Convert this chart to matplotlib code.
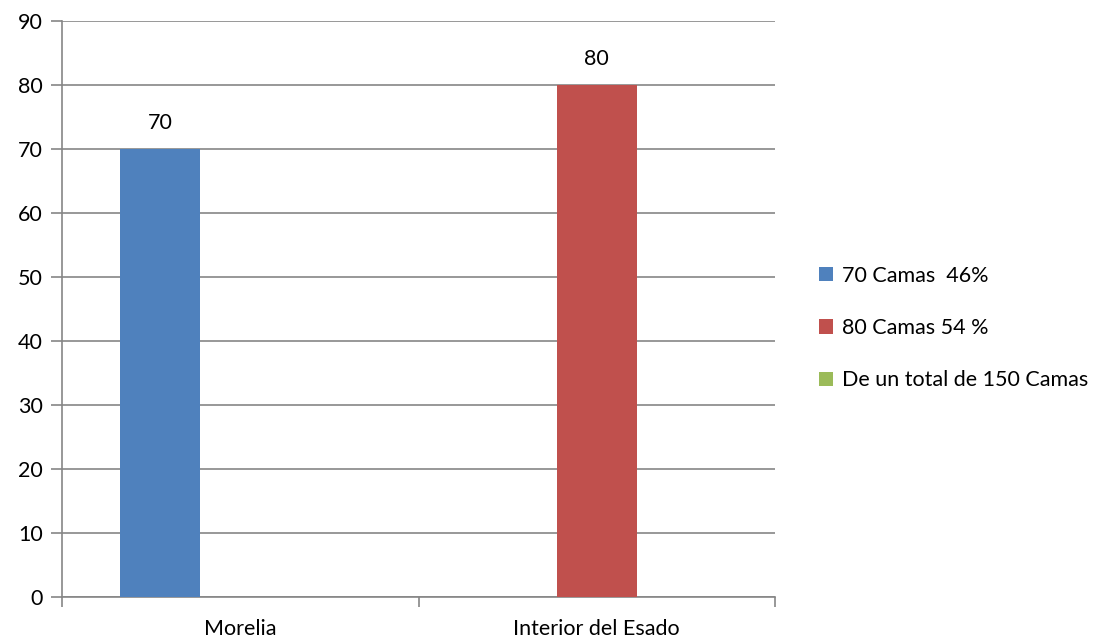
import numpy as np
import matplotlib.pyplot as plt
from matplotlib.patches import Patch

plt.rcParams['font.family'] = ['Lato', 'DejaVu Sans']

categories = ['Morelia', 'Interior del Esado']
series_names = ['70 Camas  46%', '80 Camas 54 %', 'De un total de 150 Camas']
morelia_vals = [70, 0]
interior_vals = [0, 80]
total_vals = [0, 0]
colors = ['#4F81BD', '#C0504D', '#9BBB59']

fig = plt.figure(figsize=(11.2, 6.41), dpi=100)
ax = fig.add_axes([62 / 1120, 1 - 597 / 641, (775 - 62) / 1120, (597 - 21) / 641])

x = np.arange(len(categories))
width = 0.2247
all_series = [morelia_vals, interior_vals, total_vals]
for i, (vals, c) in enumerate(zip(all_series, colors)):
    bars = ax.bar(x + (i - 1) * width, vals, width, color=c, zorder=3)
    for b, v in zip(bars, vals):
        if v:
            ax.text(b.get_x() + b.get_width() / 2, v + 4.0, str(v),
                    ha='center', va='center', fontsize=15.5, color='black')

ax.set_xlim(-0.5, 1.5)
ax.set_ylim(0, 90)
ax.set_yticks(range(0, 91, 10))
ax.yaxis.grid(True, color='#868686', linewidth=1.2, zorder=0)
ax.set_axisbelow(True)

ax.set_xticks(x)
ax.set_xticklabels(categories)
ax.set_xticks([-0.5, 0.5, 1.5], minor=True)
ax.tick_params(axis='x', which='major', length=0, pad=16, labelsize=15.5)
ax.tick_params(axis='x', which='minor', length=7, width=1.2, color='#868686')
ax.tick_params(axis='y', length=8, width=1.2, color='#868686', labelsize=15.5, pad=6)

for s in ['top', 'right']:
    ax.spines[s].set_visible(False)
for s in ['left', 'bottom']:
    ax.spines[s].set_color('#868686')
    ax.spines[s].set_linewidth(1.2)

handles = [Patch(facecolor=c, label=n) for c, n in zip(colors, series_names)]
fig.legend(handles=handles, loc='center left', bbox_to_anchor=(800 / 1120, 1 - 328 / 641),
           frameon=False, fontsize=15.5, handlelength=0.65, handleheight=0.65,
           handletextpad=0.4, labelspacing=1.5)

fig.savefig('out.png', dpi=100)
